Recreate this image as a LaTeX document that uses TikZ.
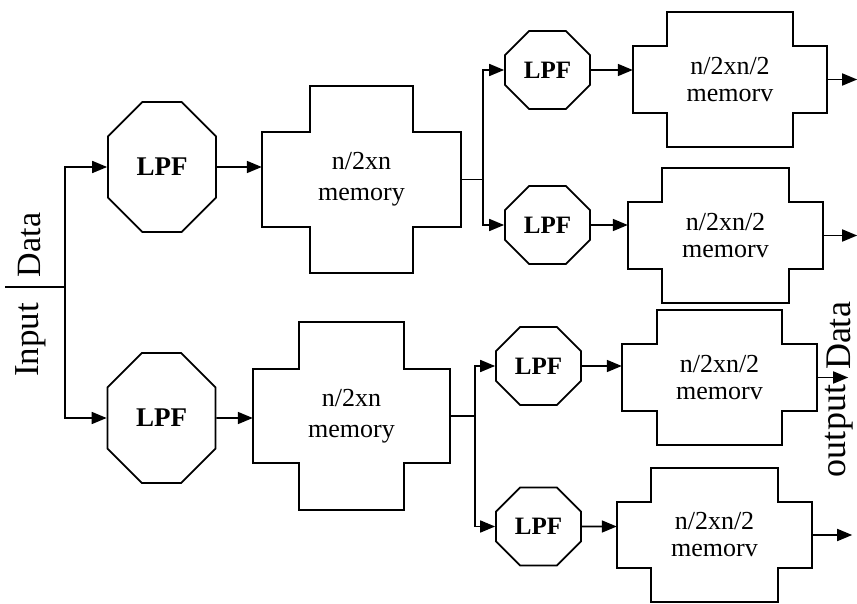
\documentclass[tikz,border=0pt]{standalone}
\usepackage{fontspec}
\setmainfont{Liberation Serif}
\usetikzlibrary{arrows.meta,shapes.misc}

\newcommand{\memoutline}[3]{%
  \draw[line width=1.7pt] ([xshift=#2]#1.north west) -- ([xshift=-#2]#1.north east)
    -- ([xshift=-#2,yshift=-#3]#1.north east) -- ([yshift=-#3]#1.north east)
    -- ([yshift=#3]#1.south east) -- ([xshift=-#2,yshift=#3]#1.south east)
    -- ([xshift=-#2]#1.south east) -- ([xshift=#2]#1.south west)
    -- ([xshift=#2,yshift=#3]#1.south west) -- ([yshift=#3]#1.south west)
    -- ([yshift=-#3]#1.north west) -- ([xshift=#2,yshift=-#3]#1.north west) -- cycle;}

\tikzset{
  lpf/.style={draw, line width=1.7pt, chamfered rectangle, inner sep=0pt},
  biglpf/.style={lpf, minimum width=108pt, minimum height=130pt,
    chamfered rectangle xsep=32pt, chamfered rectangle ysep=30pt,
    font=\bfseries\fontsize{27}{27}\selectfont},
  smalllpf/.style={lpf, minimum width=85pt, minimum height=78pt,
    chamfered rectangle xsep=15pt, chamfered rectangle ysep=16pt,
    font=\bfseries\fontsize{25}{25}\selectfont},
  mem/.style={inner sep=0pt, align=center},
  bigmem/.style={mem, font=\fontsize{26}{31}\selectfont},
  smallmem/.style={mem, font=\fontsize{26}{27}\selectfont},
  wire/.style={line width=1.7pt},
  arr/.style={line width=1.7pt, -{Triangle[length=15pt,width=12pt]}},
  vtext/.style={rotate=90, inner sep=0pt}
}

\begin{document}
\begin{tikzpicture}[x=1pt, y=-1pt]
  \useasboundingbox (0,0) rectangle (857,604);

  \node[vtext, font=\fontsize{34}{34}\selectfont] (inD) at (30,245) {Data};
  \node[vtext, font=\fontsize{35}{35}\selectfont] (inI) at (31,340) {Input};
  \coordinate (in) at (5,287);
  \coordinate (j) at (65,287);

  \node[biglpf] (L1) at (162,167) {LPF};
  \node[biglpf] (L2) at (161.5,418) {LPF};

  \node[bigmem, minimum width=199pt, minimum height=187pt] (M1) at (361.5,179.5) {n/2xn\\memory};
  \node[bigmem, minimum width=197pt, minimum height=188pt] (M2) at (351.5,416) {n/2xn\\memory};
  \memoutline{M1}{48pt}{46pt}
  \memoutline{M2}{46pt}{47pt}

  \node[smalllpf] (L3) at (547.5,70) {LPF};
  \node[smalllpf] (L4) at (547.5,225) {LPF};
  \node[smalllpf] (L5) at (538.5,366) {LPF};
  \node[smalllpf] (L6) at (538.5,526.5) {LPF};

  \node[smallmem, minimum width=194pt, minimum height=135pt] (M3) at (730,79.5) {n/2xn/2\\memorv};
  \node[smallmem, minimum width=195pt, minimum height=135pt] (M4) at (725.5,235.5) {n/2xn/2\\memorv};
  \node[smallmem, minimum width=195pt, minimum height=135pt] (M5) at (719.5,377.5) {n/2xn/2\\memorv};
  \node[smallmem, minimum width=195pt, minimum height=134pt] (M6) at (714.5,535) {n/2xn/2\\memorv};
  \memoutline{M3}{34pt}{34pt}
  \memoutline{M4}{34pt}{34pt}
  \memoutline{M5}{35pt}{34pt}
  \memoutline{M6}{34pt}{34pt}

  \coordinate (b1) at ([xshift=22pt]M1.east);
  \coordinate (b2) at ([xshift=25pt]M2.east);
  \coordinate (o3) at ([xshift=30pt]M3.east);
  \coordinate (o4) at ([xshift=34pt]M4.east);
  \coordinate (o5) at ([xshift=31pt]M5.east);
  \coordinate (o6) at ([xshift=40pt]M6.east);

  \node[vtext, font=\fontsize{36}{36}\selectfont] (outD) at (839,336) {Data};
  \node[vtext, font=\fontsize{36}{36}\selectfont] (outO) at (839,431) {output};

  \draw[wire] (in) -- (j);
  \draw[arr] (j) |- (L1);
  \draw[arr] (j) |- (L2);
  \draw[arr] (L1) -- (L1 -| M1.west);
  \draw[arr] (L2) -- (L2 -| M2.west);
  \draw[wire] (M1.east) -- (b1);
  \draw[wire] (M2.east) -- (b2);
  \draw[arr] (b1) |- (L3);
  \draw[arr] (b1) |- (L4);
  \draw[arr] (b2) |- (L5);
  \draw[arr] (b2) |- (L6);
  \draw[arr] (L3) -- (L3 -| M3.west);
  \draw[arr] (L4) -- (L4 -| M4.west);
  \draw[arr] (L5) -- (L5 -| M5.west);
  \draw[arr] (L6) -- (L6 -| M6.west);
  \draw[arr] (M3.east) -- (o3);
  \draw[arr] (M4.east) -- (o4);
  \draw[arr] (M5.east) -- (o5);
  \draw[arr] (M6.east) -- (o6);
\end{tikzpicture}
\end{document}
